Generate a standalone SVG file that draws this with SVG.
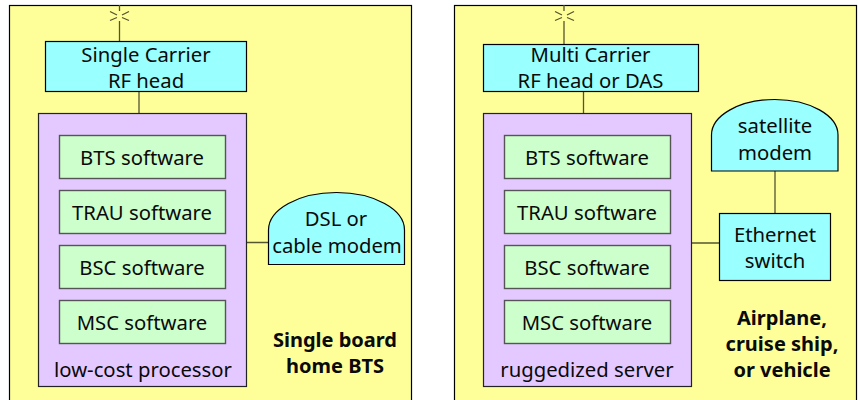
<svg xmlns="http://www.w3.org/2000/svg" width="858" height="400" viewBox="0 0 858 400">
<style>
text{font-family:"Noto Sans","DejaVu Sans",sans-serif;font-size:20.300px;fill:#0a0a0a;text-anchor:middle}
.b{font-weight:700;font-size:20px}
.panel{fill:#ffff99;stroke:#000;stroke-width:1.2}
.cy{fill:#99ffff;stroke:#000;stroke-width:1.2}
.pu{fill:#e3c9ff;stroke:#222;stroke-width:1.2}
.gr{fill:#ccffcc;stroke:#555;stroke-width:1.4}
.c{fill:none;stroke:#555530;stroke-width:1.3}
</style>
<g id="panel-left"><rect class="panel" x="9.5" y="5.5" width="402" height="400"/></g>
<g id="panel-right"><rect class="panel" x="454.5" y="5.5" width="402" height="400"/></g>
<g id="connectors">
<path class="c" d="M119.500 5V11M119.500 21V41M139 91V113M246 242.500H268"/>
<path class="c" d="M110 11.500L117 15M129 11.500L122 15M110 20.500L117 17.500M129 20.500L122 17.500"/>
<path class="c" d="M564 5V11M564 21V44M583.500 91V113M691 243H720M775 171V213"/>
<path class="c" d="M555 11.500L562 15M574 11.500L567 15M555 20.500L562 17.500M574 20.500L567 17.500"/>
</g>
<g id="rf-left"><rect class="cy" x="45.500" y="41.500" width="201" height="50"/><text x="146" y="62">Single Carrier</text><text x="146" y="88">RF head</text></g>
<g id="proc-left"><rect class="pu" x="38.500" y="113.500" width="208" height="273"/><text x="143" y="377">low-cost processor</text></g>
<g id="bts-left"><rect class="gr" x="59.500" y="135.500" width="166" height="43"/><text x="142" y="165">BTS software</text></g>
<g id="trau-left"><rect class="gr" x="59.500" y="190.500" width="166" height="43"/><text x="142" y="220">TRAU software</text></g>
<g id="bsc-left"><rect class="gr" x="59.500" y="245.500" width="166" height="43"/><text x="142" y="275">BSC software</text></g>
<g id="msc-left"><rect class="gr" x="59.500" y="300.500" width="166" height="43"/><text x="142" y="330">MSC software</text></g>
<g id="modem-left"><path class="cy" d="M268.500 264.500V230A68 37.500 0 0 1 404.500 230V264.500Z"/><text x="336" y="226">DSL or</text><text x="337" y="252.500">cable modem</text></g>
<g id="label-left"><text class="b" x="335" y="347">Single board</text><text class="b" x="335" y="373">home BTS</text></g>
<g id="rf-right"><rect class="cy" x="483.500" y="44.500" width="215" height="47"/><text x="590.500" y="62">Multi Carrier</text><text x="590.500" y="88">RF head or DAS</text></g>
<g id="proc-right"><rect class="pu" x="483.500" y="113.500" width="208" height="273"/><text x="587" y="377">ruggedized server</text></g>
<g id="bts-right"><rect class="gr" x="504.500" y="135.500" width="166" height="43"/><text x="587" y="165">BTS software</text></g>
<g id="trau-right"><rect class="gr" x="504.500" y="190.500" width="166" height="43"/><text x="587" y="220">TRAU software</text></g>
<g id="bsc-right"><rect class="gr" x="504.500" y="245.500" width="166" height="43"/><text x="587" y="275">BSC software</text></g>
<g id="msc-right"><rect class="gr" x="504.500" y="300.500" width="166" height="43"/><text x="587" y="330">MSC software</text></g>
<g id="modem-right"><path class="cy" d="M711.500 171V135A63.250 35.500 0 0 1 838 135V171Z"/><text x="775" y="133">satellite</text><text x="775" y="159.500">modem</text></g>
<g id="switch-right"><rect class="cy" x="719.500" y="213.500" width="111" height="67"/><text x="775" y="241.500">Ethernet</text><text x="775" y="267.500">switch</text></g>
<g id="label-right"><text class="b" x="782" y="325">Airplane,</text><text class="b" x="782" y="351">cruise ship,</text><text class="b" x="782" y="377">or vehicle</text></g>
</svg>
